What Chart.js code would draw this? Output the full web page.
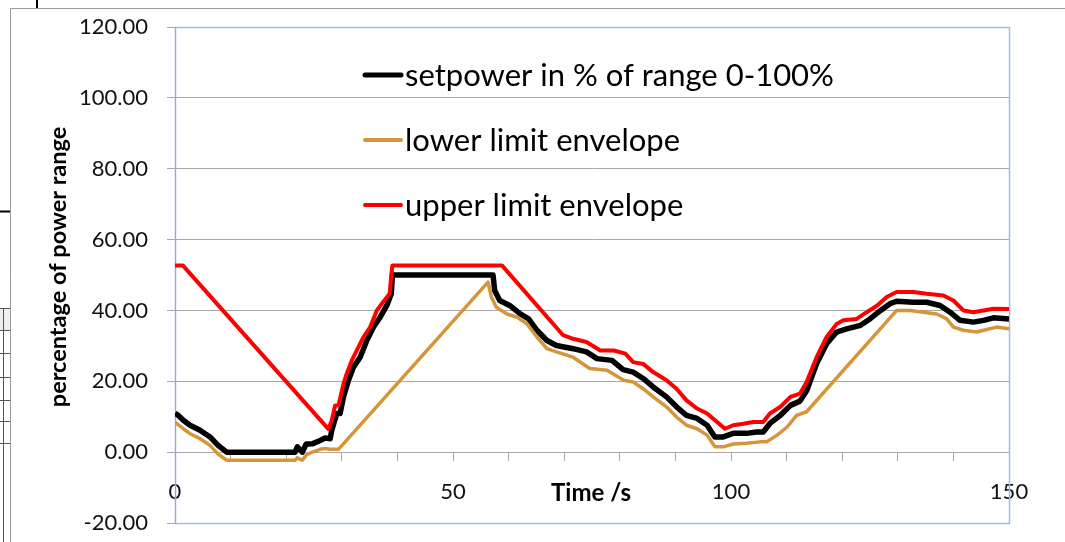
<!DOCTYPE html>
<html>
<head>
<meta charset="utf-8">
<script src="https://cdn.jsdelivr.net/npm/chart.js@4.4.1/dist/chart.umd.min.js"></script>
<style>
  html, body { margin: 0; padding: 0; background: #ffffff; }
  #wrap { width: 1065px; height: 542px; position: relative; }
  canvas { display: block; }
</style>
</head>
<body>
<div id="wrap"><canvas id="c" width="1065" height="542"></canvas></div>
<script>
// Time axis (s) and power values (% of range) for each trace
const setpowerTime = [0, 0.5, 1.5, 2.7, 4.5, 6.3, 7.7, 9.3, 21.6, 22.0, 22.9, 23.6, 24.8, 26.1, 27.0, 27.9,
  28.2, 29.1, 29.7, 30.3, 31.2, 32.1, 33.3, 34.5, 35.7, 36.9, 38.1, 38.9, 39.1, 57.2, 57.5, 58.4, 60.2,
  62.1, 63.6, 65.1, 66.9, 68.6, 71.6, 74.0, 75.9, 78.6, 80.6, 82.4, 84.2, 86.0, 88.4, 90.2, 92.0, 93.9,
  95.7, 97.1, 98.6, 100.4, 102.8, 104.6, 105.8, 107.0, 108.9, 110.7, 112.4, 113.6, 115.4, 117.2, 119.0,
  120.8, 123.3, 125.0, 126.9, 128.6, 129.8, 132.8, 135.2, 137.6, 139.4, 141.2, 143.6, 145.4, 147.2, 150];
const setpowerValue = [10.9, 10.5, 9.0, 7.6, 6.2, 4.3, 2.0, 0, 0, 1.5, 0, 2.3, 2.4, 3.3, 4.0, 3.8,
  6.2, 10.9, 10.9, 15.6, 20.3, 24.0, 26.8, 31.5, 35.3, 38.1, 41.4, 44.7, 50.0, 50.0, 45.6, 42.8, 41.4,
  39.0, 37.6, 34.4, 31.5, 30.1, 29.2, 28.3, 26.4, 25.9, 23.3, 22.6, 20.8, 18.4, 15.6, 12.8, 10.4, 9.5,
  7.6, 4.3, 4.3, 5.3, 5.3, 5.7, 5.7, 8.1, 10.4, 13.2, 14.4, 17.3, 25.0, 30.6, 33.9,
  34.8, 35.8, 37.6, 40.0, 41.9, 42.6, 42.3, 42.3, 41.4, 39.5, 37.2, 36.7, 37.2, 37.9, 37.6];

const lowerTime = [0, 1.5, 2.7, 4.5, 6.3, 7.7, 9.3, 21.6, 22.0, 22.9, 23.6, 24.8, 26.1, 27.0, 27.9, 29.4,
  56.3, 56.9, 57.8, 59.7, 61.5, 63.3, 65.1, 66.9, 68.6, 71.6, 74.6, 77.7, 80.7, 82.4, 84.2, 86.0, 88.4,
  90.2, 92.0, 93.9, 95.7, 97.1, 98.6, 100.4, 102.8, 105.2, 106.4, 108.3, 110.1, 111.8, 113.6, 129.8,
  132.2, 134.6, 137.0, 138.8, 140.0, 141.8, 144.2, 146.0, 147.8, 150];
const lowerValue = [8.5, 6.6, 5.2, 3.8, 1.9, -0.5, -2.3, -2.3, -1.6, -2.3, -0.8, 0.1, 0.8, 1.0, 0.8, 0.8,
  48.0, 43.8, 40.9, 39.0, 38.1, 36.2, 32.5, 29.2, 28.3, 26.8, 23.6, 23.1, 20.3, 19.8, 17.9, 15.6, 12.8,
  9.9, 7.6, 6.6, 4.8, 1.5, 1.5, 2.3, 2.5, 2.9, 2.9, 4.8, 7.1, 10.4, 11.4, 40.0,
  40.0, 39.5, 39.0, 37.6, 35.3, 34.4, 33.9, 34.6, 35.3, 34.8];

const upperTime = [0, 1.4, 27.6, 28.2, 28.8, 29.4, 30.3, 30.9, 31.8, 32.7, 33.9, 35.1, 36.3, 37.4, 38.6,
  38.9, 39.1, 58.8, 69.8, 71.6, 74.0, 76.5, 78.9, 81.0, 82.4, 84.2, 86.0, 88.4, 90.2, 92.0, 93.9, 95.7,
  97.5, 98.9, 100.4, 102.2, 104.0, 105.8, 107.0, 108.9, 110.7, 112.4, 113.6, 115.4, 117.2, 119.0, 120.2,
  122.6, 124.4, 126.3, 128.0, 129.8, 132.8, 135.2, 138.2, 140.0, 141.8, 143.6, 145.4, 147.2, 150];
const upperValue = [52.7, 52.7, 6.5, 9.0, 13.2, 13.2, 19.3, 22.2, 25.9, 28.7, 32.5, 35.3, 40.0, 42.3, 44.7,
  49.9, 52.7, 52.7, 33.0, 32.0, 31.1, 28.7, 28.7, 27.8, 25.4, 24.9, 22.6, 20.3, 17.9, 14.6, 12.3, 10.9,
  8.5, 6.6, 7.6, 8.0, 8.5, 8.5, 10.9, 12.8, 15.6, 16.5, 19.8, 26.8, 32.5, 36.2, 37.2,
  37.6, 39.5, 41.4, 43.8, 45.2, 45.2, 44.7, 44.2, 42.8, 40.0, 39.5, 40.0, 40.5, 40.4];

const seriesLabels = ['setpower in % of range 0-100%', 'lower limit envelope', 'upper limit envelope'];
const seriesColors = ['#000000', '#d6953a', '#ff0000'];
const xLabelValues = [0, 50, 100, 150];
const yTickValues = [-20, 0, 20, 40, 60, 80, 100, 120];
const xTitle = 'Time /s';
const yTitle = 'percentage of power range';

const toPoints = (ts, vs) => ts.map((t, i) => ({ x: t, y: vs[i] }));

const FONT = 'Lato, "Open Sans", sans-serif';
const GRID = '#a8a8a8';

// Plot frame, axis titles, in-plot legend and the surrounding sheet rules
const decor = {
  id: 'decor',
  beforeDatasetsDraw(chart) {
    const { ctx, chartArea: a } = chart;
    ctx.save();
    ctx.strokeStyle = '#9fbde8';
    ctx.lineWidth = 1.5;
    ctx.strokeRect(a.left + 0.5, a.top + 0.5, a.right - a.left, a.bottom - a.top);
    ctx.strokeStyle = GRID;
    ctx.lineWidth = 1;
    ctx.beginPath();
    ctx.moveTo(a.left + 0.5, a.top);
    ctx.lineTo(a.left + 0.5, a.bottom + 1);
    ctx.stroke();
    ctx.restore();
  },
  afterDraw(chart) {
    const { ctx } = chart;
    ctx.save();
    // axis titles
    ctx.fillStyle = '#000000';
    ctx.textAlign = 'center';
    ctx.textBaseline = 'middle';
    ctx.font = 'bold 24px ' + FONT;
    ctx.fillText(xTitle, 591, 493);
    ctx.font = 'bold 23.5px ' + FONT;
    ctx.save();
    ctx.translate(58, 267);
    ctx.rotate(-Math.PI / 2);
    ctx.fillText(yTitle, 0, 0);
    ctx.restore();

    // legend inside the plot
    const rows = [75, 140, 205];
    const widths = [5, 4, 4];
    ctx.font = '31px ' + FONT;
    ctx.textAlign = 'left';
    chart.data.datasets.forEach((ds, i) => {
      ctx.strokeStyle = ds.borderColor;
      ctx.lineWidth = widths[i];
      ctx.lineCap = 'round';
      ctx.beginPath();
      ctx.moveTo(365, rows[i]);
      ctx.lineTo(401, rows[i]);
      ctx.stroke();
      ctx.fillStyle = '#000000';
      ctx.fillText(ds.label, 405, rows[i] + 1);
    });

    // sheet rules around the chart object
    ctx.lineCap = 'butt';
    ctx.lineWidth = 1;
    ctx.strokeStyle = '#9a9a9a';
    ctx.beginPath();
    ctx.moveTo(10.5, 542); ctx.lineTo(10.5, 8.5); ctx.lineTo(1065, 8.5);
    ctx.stroke();
    ctx.strokeStyle = '#000000';
    ctx.lineWidth = 2;
    ctx.beginPath();
    ctx.moveTo(37, 0); ctx.lineTo(37, 8);
    ctx.moveTo(0, 211.5); ctx.lineTo(10, 211.5);
    ctx.stroke();
    ctx.fillStyle = '#eeeeee';
    ctx.fillRect(0, 309, 10, 21);
    ctx.strokeStyle = '#555555';
    ctx.lineWidth = 1;
    ctx.beginPath();
    [308.5, 330.5, 353.5, 377.5, 400.5, 421.5, 443.5].forEach(y => { ctx.moveTo(0, y); ctx.lineTo(10, y); });
    ctx.moveTo(3.5, 308); ctx.lineTo(3.5, 542);
    ctx.stroke();
    ctx.restore();
  }
};

new Chart(document.getElementById('c'), {
  type: 'line',
  data: {
    datasets: [
      { label: seriesLabels[0], data: toPoints(setpowerTime, setpowerValue), borderColor: seriesColors[0], borderWidth: 5.5, order: 2 },
      { label: seriesLabels[1], data: toPoints(lowerTime, lowerValue), borderColor: seriesColors[1], borderWidth: 3.5, order: 1 },
      { label: seriesLabels[2], data: toPoints(upperTime, upperValue), borderColor: seriesColors[2], borderWidth: 4, order: 0 }
    ]
  },
  options: {
    responsive: false,
    animation: false,
    devicePixelRatio: 1,
    elements: {
      point: { radius: 0, hoverRadius: 0 },
      line: { tension: 0, borderJoinStyle: 'round', borderCapStyle: 'butt', fill: false }
    },
    layout: { padding: { left: 0, right: 56, top: 27, bottom: 19 } },
    plugins: { legend: { display: false }, tooltip: { enabled: false } },
    scales: {
      x: {
        type: 'linear',
        min: 0, max: 150,
        position: { y: 0 },
        afterFit: (s) => { s.height = 0; s.paddingLeft = 0; s.paddingRight = 0; s.paddingTop = 0; s.paddingBottom = 0; },
        ticks: {
          stepSize: 10,
          autoSkip: false,
          maxRotation: 0,
          padding: 19,
          color: '#111111',
          font: { family: FONT, size: 22 },
          callback: (v) => (xLabelValues.includes(v) ? String(v) : '')
        },
        grid: { drawOnChartArea: false, drawTicks: true, tickLength: 8, color: GRID },
        border: { display: true, color: GRID, width: 1 }
      },
      y: {
        min: -20, max: 120,
        afterFit: (s) => { s.width = 175; s.paddingTop = 0; s.paddingBottom = 0; },
        afterBuildTicks: (s) => { s.ticks = yTickValues.map(v => ({ value: v })); },
        ticks: {
          padding: 19,
          color: '#111111',
          font: { family: FONT, size: 22 },
          callback: (v) => Number(v).toFixed(2)
        },
        grid: { color: GRID, tickLength: 8, drawTicks: true },
        border: { display: true, color: GRID }
      }
    }
  },
  plugins: [decor]
});
</script>
</body>
</html>
